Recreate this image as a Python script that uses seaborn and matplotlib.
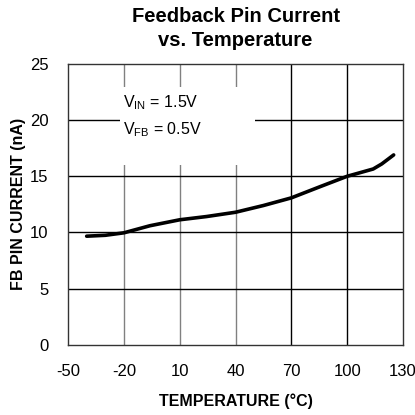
import matplotlib
matplotlib.use('Agg')
import matplotlib.pyplot as plt
import matplotlib.patches as mpatches
import seaborn as sns
import pandas as pd

# Curve
temperature = [-40, -30, -20, -6, 10, 24.5, 40, 55, 70, 85.5, 100, 114, 118.6, 125]
fb_current = [9.67, 9.75, 9.97, 10.6, 11.13, 11.42, 11.8, 12.4, 13.08, 14.08, 15.0, 15.65, 16.1, 16.9]

x_ticks = [-50, -20, 10, 40, 70, 100, 130]
y_ticks = [0, 5, 10, 15, 20, 25]

df = pd.DataFrame({'temp': temperature, 'current': fb_current})

sns.set_theme(style='white')
plt.rcParams['font.family'] = ['Liberation Sans', 'DejaVu Sans']
plt.rcParams['mathtext.fontset'] = 'custom'
plt.rcParams['mathtext.rm'] = 'Liberation Sans'
plt.rcParams['axes.unicode_minus'] = False
plt.rcParams['text.color'] = 'black'
plt.rcParams['axes.labelcolor'] = 'black'

fig = plt.figure(figsize=(4.15, 4.15), dpi=100)
ax = fig.add_axes([0.164, 0.169, 0.807, 0.677])

sns.lineplot(data=df, x='temp', y='current', ax=ax, color='black', linewidth=2.6,
             zorder=4)

ax.set_xlim(-50, 130)
ax.set_ylim(0, 25)
ax.set_xticks(x_ticks)
ax.set_yticks(y_ticks)

# grid: vertical lines on the left half are grey, the rest black
for t in x_ticks[1:-1]:
    ax.axvline(t, color='#808080' if t < 70 else 'black', linewidth=1.0, zorder=1)
for v in y_ticks[1:-1]:
    ax.axhline(v, color='black', linewidth=1.0, zorder=1)

# white label box masking the grid
ax.add_patch(mpatches.Rectangle((0.155, 0.64), 0.403, 0.278, transform=ax.transAxes,
                                facecolor='white', edgecolor='none', zorder=2))
ax.text(0.165, 0.861, r'V$_{\mathregular{IN}}$ = 1.5V', transform=ax.transAxes,
        fontsize=11.5, va='center', ha='left', zorder=3)
ax.text(0.165, 0.765, r'V$_{\mathregular{FB}}$ = 0.5V', transform=ax.transAxes,
        fontsize=11.5, va='center', ha='left', zorder=3)

for side in ['left', 'right', 'top', 'bottom']:
    ax.spines[side].set_visible(True)
    ax.spines[side].set_color('#333333')
    ax.spines[side].set_linewidth(1.0)

ax.tick_params(axis='both', length=0, labelsize=12, colors='black')
ax.tick_params(axis='x', pad=14)
ax.tick_params(axis='y', pad=14)
ax.set_xlabel('TEMPERATURE (°C)', fontsize=11.5, fontweight='bold')
ax.set_ylabel('FB PIN CURRENT (nA)', fontsize=11.5, fontweight='bold')
ax.xaxis.set_label_coords(0.5, -0.2, transform=ax.transAxes)
ax.yaxis.set_label_coords(-0.149, 0.5, transform=ax.transAxes)
ax.xaxis.label.set_va('center')
ax.yaxis.label.set_va('center')
ax.set_title('Feedback Pin Current\nvs. Temperature', fontsize=14.5, fontweight='bold',
             linespacing=1.35, pad=13, color='black')

fig.savefig('out.png', dpi=100)
